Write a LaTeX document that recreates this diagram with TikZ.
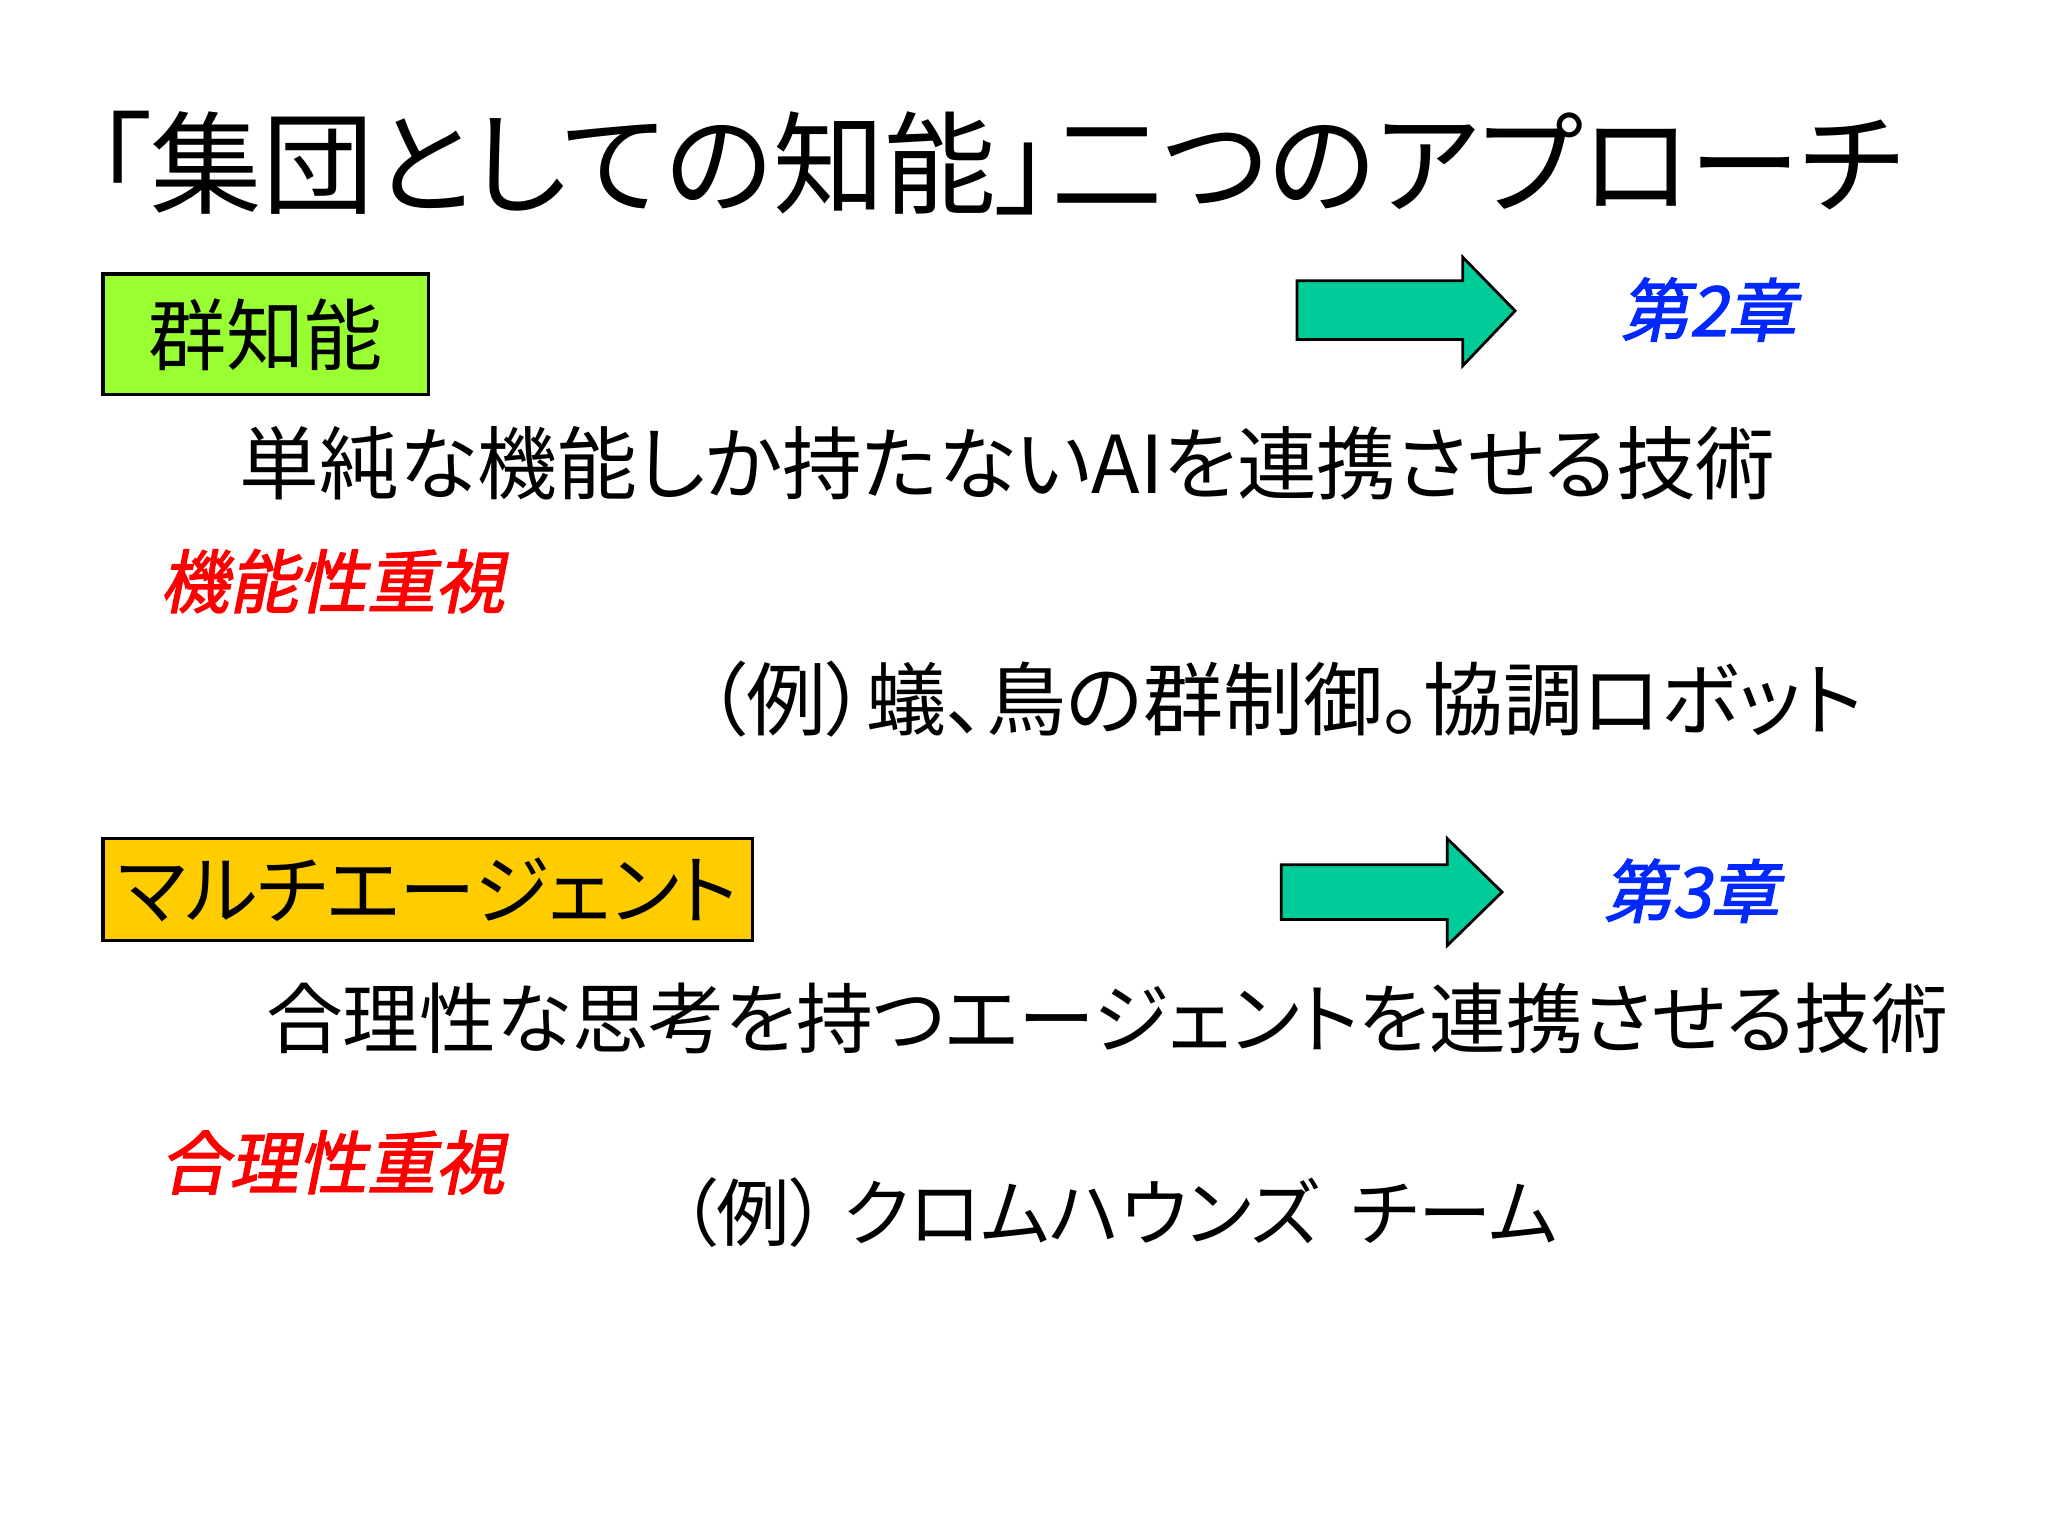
\documentclass[tikz,border=0pt]{standalone}
\usepackage{fontspec}
\newfontfamily\jp[RawFeature=+palt]{Noto Sans CJK JP}
\newfontfamily\jpb[FakeSlant=0.2,FakeBold=2,RawFeature=+palt]{Noto Sans CJK JP}
\begin{document}
\begin{tikzpicture}[x=0.01cm,y=-0.01cm,
  lbl/.style={inner sep=0pt,anchor=west,font=\jp\fontsize{16pt}{16pt}\selectfont},
  em/.style={inner sep=0pt,anchor=west,font=\jpb\fontsize{15pt}{15pt}\selectfont},
  box/.style={draw=black,line width=0.8pt,inner sep=0pt,font=\jp\fontsize{17pt}{17pt}\selectfont},
  arr/.style={fill=arrowc,draw=black,line width=0.6pt}]
\definecolor{arrowc}{RGB}{0,204,153}
\definecolor{greenbox}{RGB}{153,255,51}
\definecolor{goldbox}{RGB}{255,204,0}
\definecolor{chblue}{RGB}{0,40,255}
\useasboundingbox (0,0) rectangle (1568,1176);
\fill[white] (0,0) rectangle (1568,1176);
\node[inner sep=0pt,anchor=west] (title) at (72,125) {\resizebox{13.83cm}{!}{\jp\fontsize{24.5pt}{24.5pt}\selectfont 「集団としての知能」二つのアプローチ}};
\node[box,fill=greenbox,minimum width=2.49cm,minimum height=0.92cm] (b1) at (203.5,256) {群知能};
\draw[arr] (993,215) -- (1120,215) -- (1120,197) -- (1160,238) -- (1120,280) -- (1120,260) -- (993,260) -- cycle;
\node[em,text=chblue,anchor=center] (c2) at (1308,237) {第2章};
\node[inner sep=0pt,anchor=west] (t1) at (183,355) {\resizebox{11.75cm}{!}{\jp\fontsize{16pt}{16pt}\selectfont 単純な機能しか持たないAIを連携させる技術}};
\node[em,text=red] (e1) at (122,445) {機能性重視};
\node[inner sep=0pt,anchor=west] (x1) at (540,535) {\resizebox{8.85cm}{!}{\jp\fontsize{16pt}{16pt}\selectfont （例）蟻、鳥の群制御。協調ロボット}};
\node[box,fill=goldbox,minimum width=4.97cm,minimum height=0.78cm] (b2) at (327.5,681) {\resizebox{4.75cm}{!}{\jp\fontsize{17pt}{17pt}\selectfont マルチエージェント}};
\draw[arr] (981,662) -- (1108,662) -- (1108,642) -- (1150,683) -- (1108,724) -- (1108,704) -- (981,704) -- cycle;
\node[em,text=chblue,anchor=center] (c3) at (1295,682) {第3章};
\node[inner sep=0pt,anchor=west] (t2) at (203,780) {\resizebox{12.87cm}{!}{\jp\fontsize{16pt}{16pt}\selectfont 合理性な思考を持つエージェントを連携させる技術}};
\node[em,text=red] (e2) at (122,890) {合理性重視};
\node[lbl] (x2) at (520,928) {（例）\ クロムハウンズ\ \ チーム};
\end{tikzpicture}
\end{document}
